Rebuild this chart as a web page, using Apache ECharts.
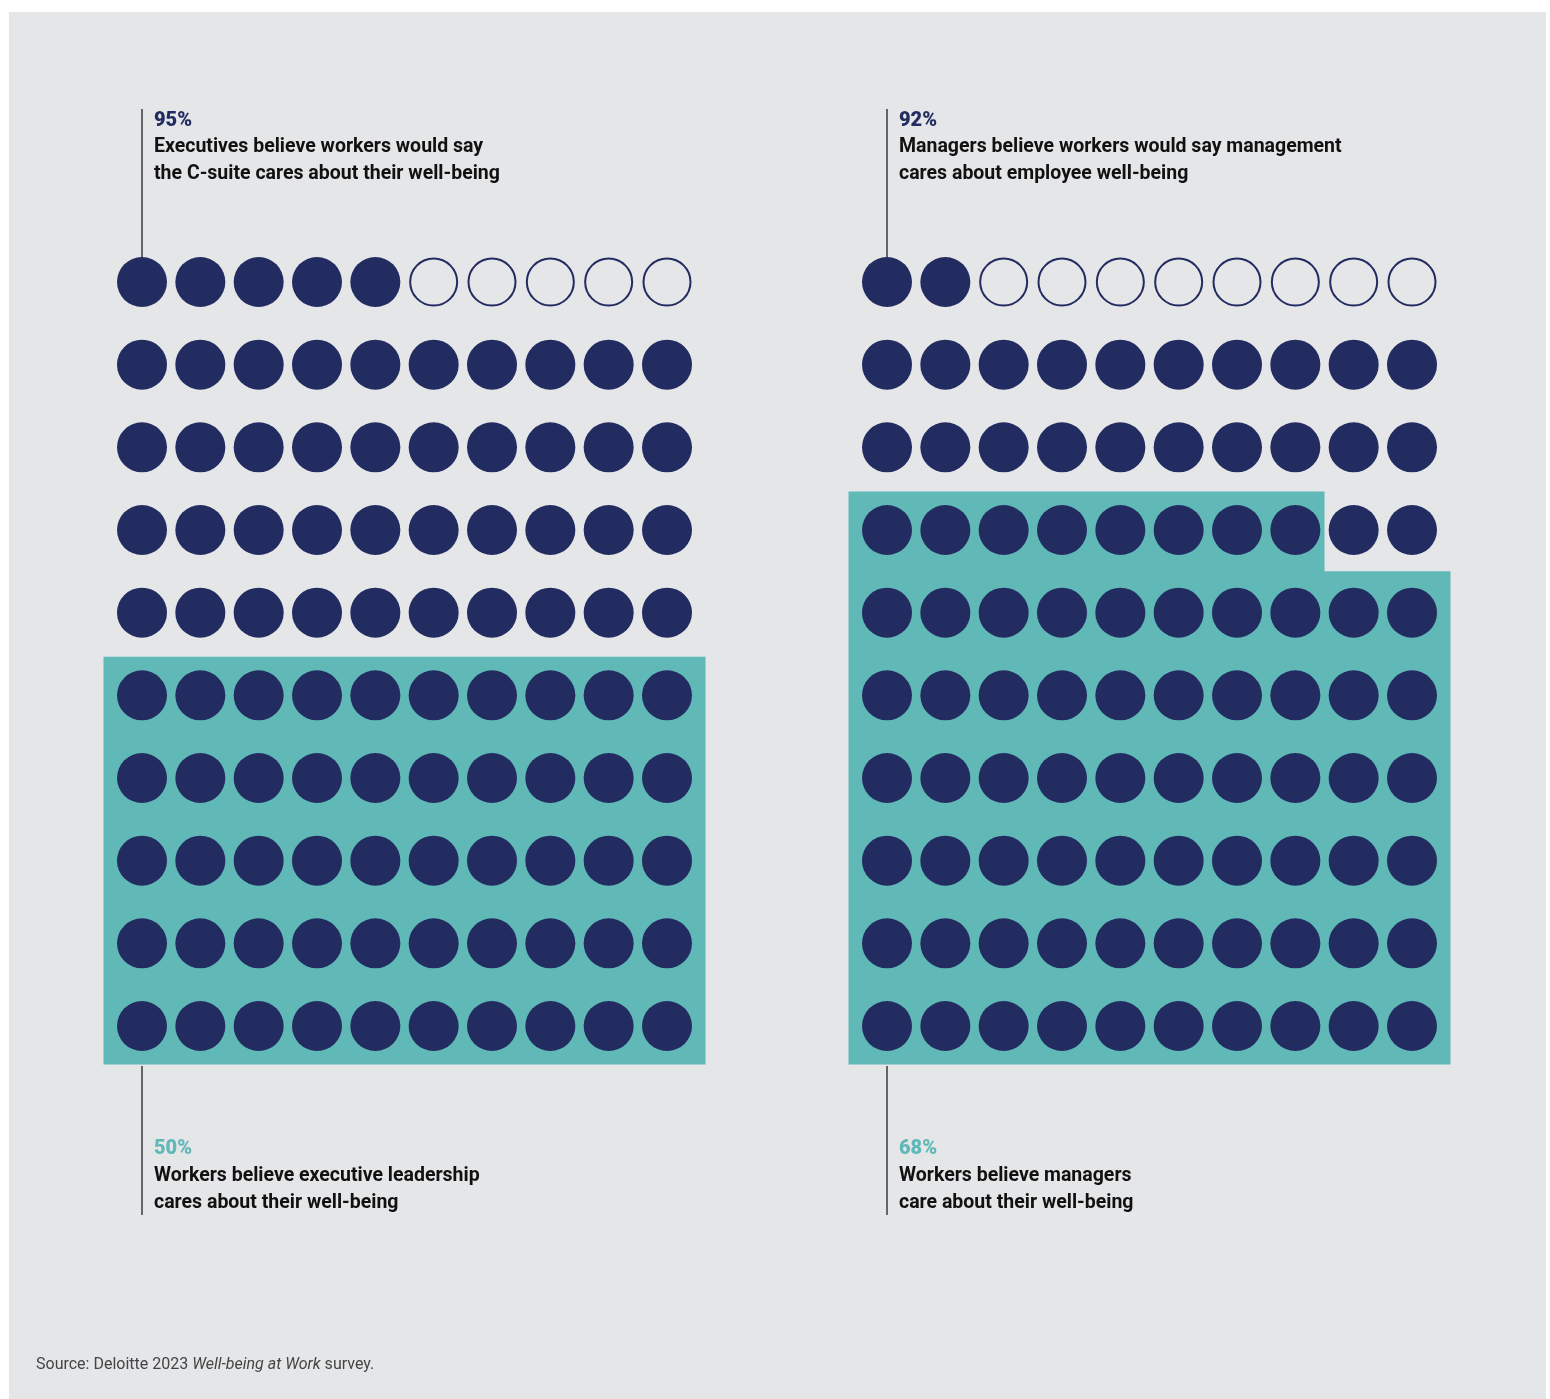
<!DOCTYPE html>
<html>
<head>
<meta charset="utf-8">
<style>
  html, body { margin: 0; padding: 0; background: #ffffff; }
  #chart { width: 1550px; height: 1399px; }
</style>
<script src="https://cdn.jsdelivr.net/npm/echarts@6/dist/echarts.min.js"></script>
</head>
<body>
<div id="chart"></div>
<script>
// Share of respondents in each panel (out of 100 dots)
const leaderValues = [95, 92];
const workerValues = [50, 68];
const leaderPctLabels = ['95%', '92%'];
const workerPctLabels = ['50%', '68%'];
const leaderTexts = [
  ['Executives believe workers would say', 'the C-suite cares about their well-being'],
  ['Managers believe workers would say management', 'cares about employee well-being']
];
const workerTexts = [
  ['Workers believe executive leadership', 'cares about their well-being'],
  ['Workers believe managers', 'care about their well-being']
];
const sourceParts = ['Source: Deloitte 2023 ', 'Well-being at Work', ' survey.'];

const NAVY = '#232c61';
const TEAL = '#60b8b7';
const PANEL = '#e5e6e8';
const FONT = 'Roboto, "Noto Sans", sans-serif';

const gridLefts = [142, 887];
const gridTop = 282;
const gridW = 525;
const gridH = 744;
const PAD = 38.5;

// A dot is "filled" when its position, counted from the bottom-left row by row, is below the value
function isFilled(row, col, v) {
  return (9 - row) * 10 + col < v;
}

function dotData(v) {
  const out = [];
  for (let r = 0; r < 10; r++) {
    for (let c = 0; c < 10; c++) {
      const filled = isFilled(r, c, v);
      out.push({
        value: [c, r],
        symbolSize: filled ? 50 : 47,
        itemStyle: filled
          ? { color: NAVY, borderWidth: 0, opacity: 1 }
          : { color: PANEL, borderColor: NAVY, borderWidth: 2, opacity: 1 }
      });
    }
  }
  return out;
}

// Teal backdrop behind the dots covered by the worker share
function tealRender(params, api) {
  const v = api.value(0);
  const k = Math.floor(v / 10);
  const rem = v % 10;
  const X = c => api.coord([c, 0])[0];
  const Y = r => api.coord([0, r])[1];
  const left = X(0) - PAD, right = X(9) + PAD, bottom = Y(9) + PAD;
  let pts;
  if (rem > 0) {
    const pr = 9 - k;
    const top = Y(pr) - PAD;
    const stepX = (X(rem - 1) + X(rem)) / 2;
    const midY = (Y(pr) + Y(pr + 1)) / 2;
    pts = [[left, top], [stepX, top], [stepX, midY], [right, midY], [right, bottom], [left, bottom]];
  } else {
    const top = Y(10 - k) - PAD;
    pts = [[left, top], [right, top], [right, bottom], [left, bottom]];
  }
  return { type: 'polygon', shape: { points: pts }, style: { fill: TEAL, opacity: 1 } };
}

const grids = [], xAxes = [], yAxes = [], series = [];
gridLefts.forEach((gl, i) => {
  grids.push({ left: gl, top: gridTop, width: gridW, height: gridH });
  xAxes.push({ gridIndex: i, type: 'value', min: 0, max: 9, show: false });
  yAxes.push({ gridIndex: i, type: 'value', min: 0, max: 9, inverse: true, show: false });
  series.push({
    type: 'custom', xAxisIndex: i, yAxisIndex: i, z: 1, silent: true,
    renderItem: tealRender, data: [[workerValues[i]]]
  });
  series.push({
    type: 'scatter', xAxisIndex: i, yAxisIndex: i, z: 3, silent: true,
    symbol: 'circle', itemStyle: { opacity: 1 }, data: dotData(leaderValues[i])
  });
});

const graphic = [
  { type: 'rect', z: -10, shape: { x: 9, y: 12, width: 1537, height: 1387 }, style: { fill: PANEL } }
];
const BODY_FONT = 'bold 19.5px ' + FONT;
const PCT_FONT = '900 20px ' + FONT;
gridLefts.forEach((gl, i) => {
  const tx = gl + 12;
  // connector lines
  graphic.push({ type: 'line', shape: { x1: gl, y1: 109, x2: gl, y2: 258 }, style: { stroke: '#3a3a3a', lineWidth: 1.5 } });
  graphic.push({ type: 'line', shape: { x1: gl, y1: 1066, x2: gl, y2: 1215 }, style: { stroke: '#3a3a3a', lineWidth: 1.5 } });
  // top annotation
  graphic.push({ type: 'text', style: { x: tx, y: 121, text: leaderPctLabels[i], font: PCT_FONT, fill: NAVY, textVerticalAlign: 'middle' } });
  leaderTexts[i].forEach((t, j) => {
    graphic.push({ type: 'text', style: { x: tx, y: 147 + j * 27, text: t, font: BODY_FONT, fill: '#111111', textVerticalAlign: 'middle' } });
  });
  // bottom annotation
  graphic.push({ type: 'text', style: { x: tx, y: 1149, text: workerPctLabels[i], font: PCT_FONT, fill: TEAL, textVerticalAlign: 'middle' } });
  workerTexts[i].forEach((t, j) => {
    graphic.push({ type: 'text', style: { x: tx, y: 1176 + j * 27, text: t, font: BODY_FONT, fill: '#111111', textVerticalAlign: 'middle' } });
  });
});
graphic.push({
  type: 'text',
  style: {
    x: 36, y: 1365, textVerticalAlign: 'middle',
    text: '{n|' + sourceParts[0] + '}{i|' + sourceParts[1] + '}{n|' + sourceParts[2] + '}',
    rich: {
      n: { font: '16px ' + FONT, fill: '#444444' },
      i: { font: 'italic 16px ' + FONT, fill: '#444444' }
    }
  }
});

const chart = echarts.init(document.getElementById('chart'), null, { renderer: 'canvas' });
chart.setOption({
  backgroundColor: '#ffffff',
  animation: false,
  grid: grids,
  xAxis: xAxes,
  yAxis: yAxes,
  series: series,
  graphic: graphic
});
</script>
</body>
</html>
